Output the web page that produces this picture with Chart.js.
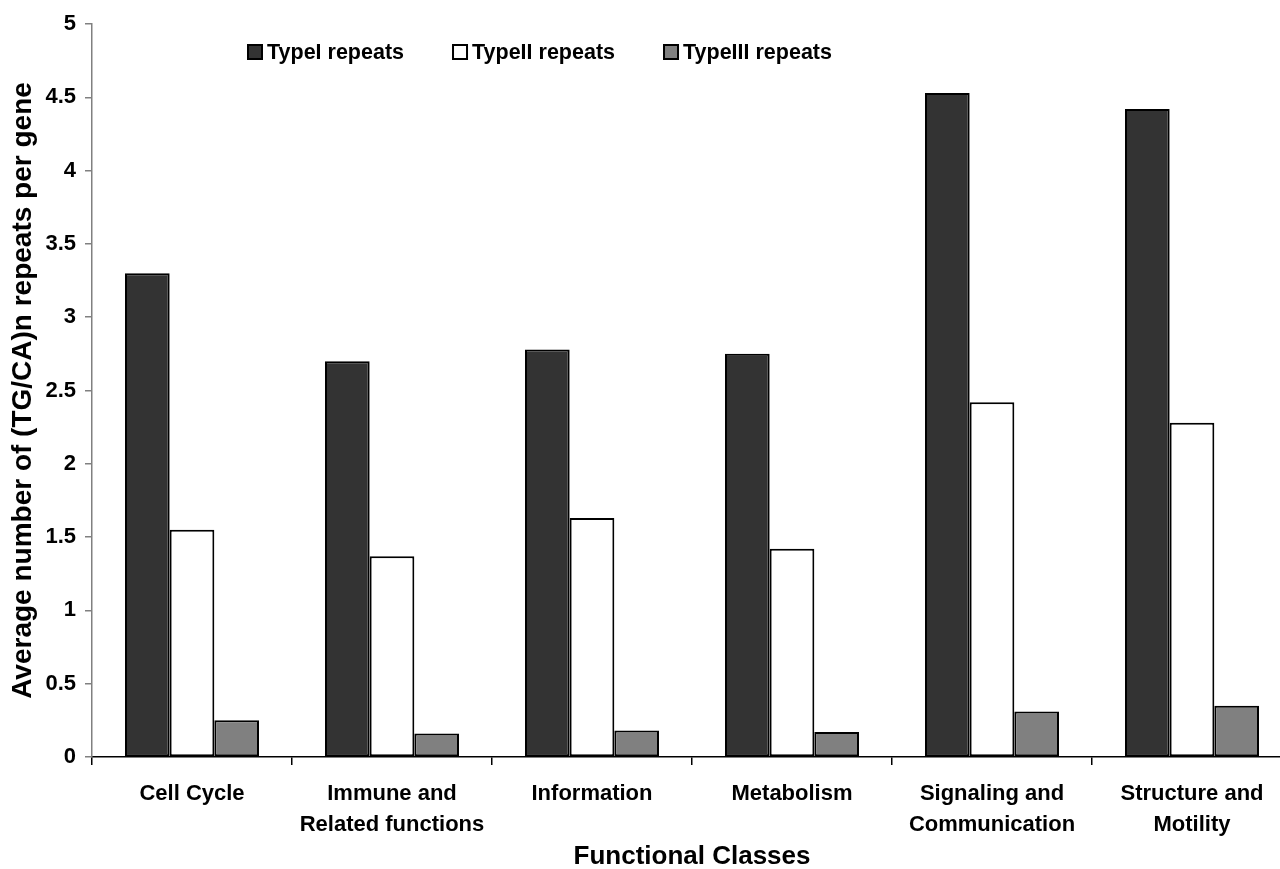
<!DOCTYPE html>
<html>
<head>
<meta charset="utf-8">
<script src="https://cdn.jsdelivr.net/npm/chart.js@4.4.1/dist/chart.umd.min.js"></script>
<style>
  html, body { margin: 0; padding: 0; background: #fff; overflow: hidden; }
  #wrap { width: 1292px; height: 869px; position: relative; }
</style>
</head>
<body>
<div id="wrap"><canvas id="c"></canvas></div>
<script>
const categories = [
  "Cell Cycle",
  ["Immune and", "Related functions"],
  "Information",
  "Metabolism",
  ["Signaling and", "Communication"],
  ["Structure and", "Motility"]
];
const seriesNames = ["TypeI repeats", "TypeII repeats", "TypeIII repeats"];
const typeI   = [3.30, 2.70, 2.78, 2.75, 4.53, 4.42];
const typeII  = [1.55, 1.37, 1.63, 1.42, 2.42, 2.28];
const typeIII = [0.25, 0.16, 0.18, 0.17, 0.31, 0.35];
const yTickStep = 0.5;
const yMax = 5;
const xTitle = "Functional Classes";
const yTitle = "Average number of (TG/CA)n repeats per gene";

const FONT = "'Liberation Sans', Arial, sans-serif";
const fills = ["#333333", "#ffffff", "#808080"];

const legendPlugin = {
  id: 'customLegend',
  afterDraw(chart) {
    const ctx = chart.ctx;
    ctx.save();
    ctx.font = "bold 21.5px " + FONT;
    ctx.textBaseline = 'middle';
    let x = 247;
    const y = 52;
    const box = 16;
    chart.data.datasets.forEach(ds => {
      ctx.fillStyle = ds.backgroundColor;
      ctx.fillRect(x, y - box / 2, box, box);
      ctx.lineWidth = 2;
      ctx.strokeStyle = '#000';
      ctx.strokeRect(x + 1, y - box / 2 + 1, box - 2, box - 2);
      ctx.fillStyle = '#000';
      ctx.fillText(ds.label, x + box + 4, y + 1);
      x += box + 4 + ctx.measureText(ds.label).width + 48;
    });
    ctx.restore();
  }
};

const seriesData = [typeI, typeII, typeIII];
new Chart(document.getElementById('c'), {
  type: 'bar',
  data: {
    labels: categories,
    datasets: seriesNames.map((name, i) => ({
      label: name,
      data: seriesData[i],
      backgroundColor: fills[i],
      borderColor: '#000',
      borderWidth: 2,
      borderSkipped: false,
      categoryPercentage: 0.67,
      barPercentage: 1.0
    }))
  },
  options: {
    responsive: true,
    maintainAspectRatio: false,
    animation: false,
    layout: { padding: { top: 24, right: 0, bottom: 0, left: 0 } },
    plugins: { legend: { display: false }, tooltip: { enabled: false } },
    scales: {
      x: {
        offset: true,
        afterFit(scale) { scale.height = 112; },
        grid: { offset: true, drawOnChartArea: false, tickLength: 8, color: '#000', lineWidth: 1.5 },
        border: { color: '#000', width: 1.5 },
        ticks: {
          color: '#000', padding: 13,
          font: { family: FONT, size: 22, weight: 'bold', lineHeight: 1.42 },
          maxRotation: 0, autoSkip: false
        },
        title: {
          display: true, text: xTitle, color: '#000',
          font: { family: FONT, size: 26, weight: 'bold', lineHeight: 1 },
          padding: { top: 0, bottom: -1 }
        }
      },
      y: {
        min: 0, max: yMax,
        afterFit(scale) { scale.width = 92; },
        grid: { drawOnChartArea: false, tickLength: 7, color: '#808080', lineWidth: 1.5 },
        border: { color: '#808080', width: 1.5 },
        ticks: {
          stepSize: yTickStep, color: '#000', padding: 9,
          font: { family: FONT, size: 22, weight: 'bold' },
          callback: (v) => String(v)
        },
        title: {
          display: true, text: yTitle, color: '#000',
          font: { family: FONT, size: 28, weight: 'bold', lineHeight: 1 },
          padding: { top: 9, bottom: 0 }
        }
      }
    }
  },
  plugins: [legendPlugin]
});
</script>
</body>
</html>
